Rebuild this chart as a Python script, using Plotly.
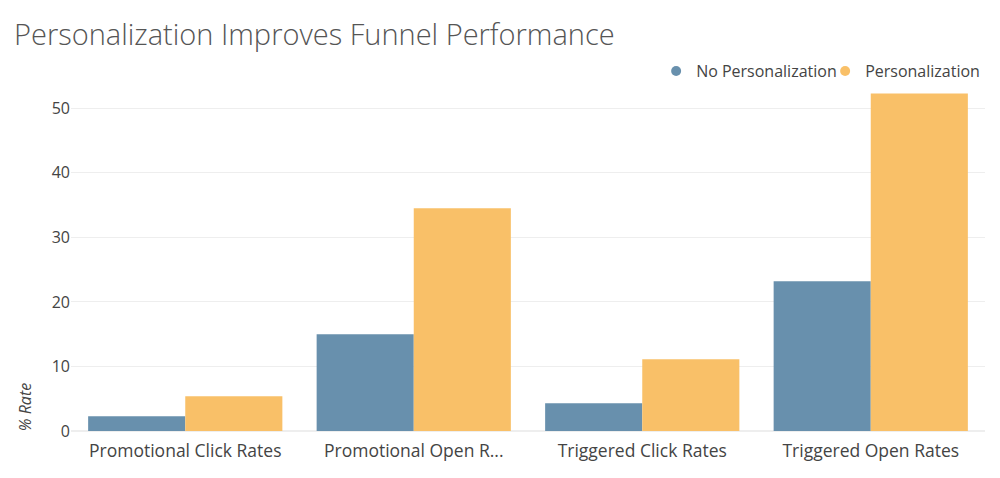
import plotly.graph_objects as go

categories = ["Promotional Click Rates", "Promotional Open R...", "Triggered Click Rates", "Triggered Open Rates"]
no_personalization = [2.3, 15.0, 4.3, 23.2]
personalization = [5.4, 34.5, 11.1, 52.3]
series_names = ["No Personalization", "Personalization"]
colors = ["#6890AD", "#F9C068"]

fig = go.Figure()
for name, vals, c in zip(series_names, [no_personalization, personalization], colors):
    fig.add_trace(go.Bar(x=categories, y=vals, name=name, marker=dict(color=c, line=dict(width=0)),
                         showlegend=False))
for name, c in zip(series_names, colors):
    fig.add_trace(go.Scatter(x=[None], y=[None], mode="markers", name=name,
                             marker=dict(color=c, size=10, symbol="circle")))

fig.update_layout(
    width=1000, height=478,
    margin=dict(l=71, r=15, t=76, b=47, autoexpand=False),
    paper_bgcolor="white", plot_bgcolor="white",
    font=dict(family="Open Sans", color="#444"),
    title=dict(text="Personalization Improves Funnel Performance", x=0.014, xanchor="left",
               y=0.927, yanchor="middle", font=dict(family="Open Sans", size=29, color="#555", weight=300)),
    barmode="group", bargap=0.15, bargroupgap=0,
    legend=dict(orientation="h", x=1.01, xanchor="right", y=1.014, yanchor="middle",
                font=dict(size=16, color="#444"), itemwidth=30, tracegroupgap=0,
                entrywidth=124),
    xaxis=dict(tickfont=dict(size=17.5, color="#444"), showline=False, ticks="outside",
               ticklen=4, tickcolor="rgba(0,0,0,0)"),
    yaxis=dict(range=[0, 55], dtick=10, gridcolor="#EEEEEE", zerolinecolor="#EEEEEE",
               tickfont=dict(size=16, color="#444"), ticks="", ticklen=0),
    annotations=[dict(text="<i>% Rate</i>", textangle=-90, xref="paper", yref="paper",
                      x=-0.051, y=-0.005, xanchor="center", yanchor="bottom", showarrow=False,
                      font=dict(size=16, color="#444"))],
)

fig.write_html("out.html", config={"displayModeBar": False},
               post_script="document.body.style.margin='0';")
